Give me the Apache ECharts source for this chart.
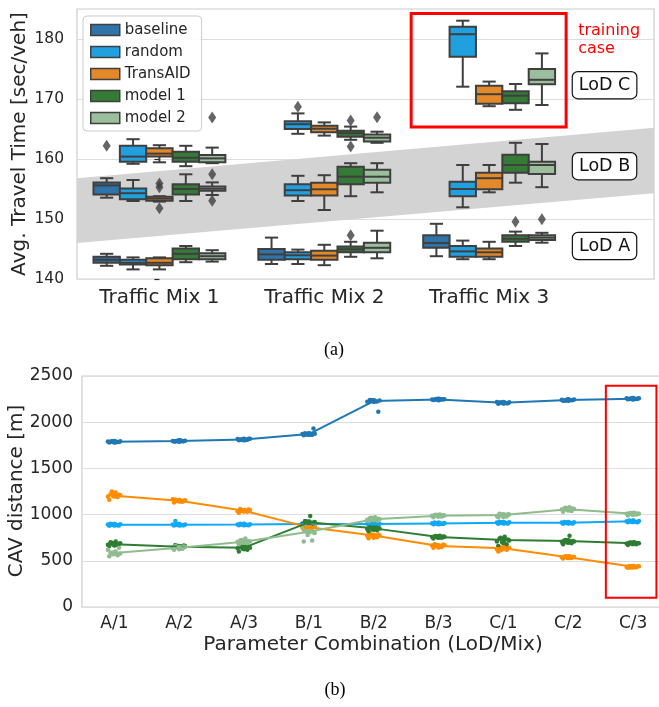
<!DOCTYPE html>
<html>
<head>
<meta charset="utf-8">
<script src="https://cdn.jsdelivr.net/npm/echarts@6.0.0/dist/echarts.min.js"></script>
<style>html,body{margin:0;padding:0;background:#fff;}#c{width:659px;height:707px;}</style>
</head>
<body>
<div id="c"></div>
<script>
// ---------- DATA: top chart (box plots) ----------
const mixCats = ['Traffic Mix 1', 'Traffic Mix 2', 'Traffic Mix 3'];
const hues = ['baseline', 'random', 'TransAID', 'model 1', 'model 2'];
const yTicksTop = [140, 150, 160, 170, 180];
// [mixIndex, min, q1, median, q3, max]
const baselineBoxes = [
  [0, 142.2, 142.7, 143.2, 143.7, 144.2],
  [0, 153.55, 154.1, 155.6, 156.1, 156.8],
  [1, 142.5, 143.2, 144.1, 145.0, 146.9],
  [2, 143.8, 145.2, 146.0, 147.3, 149.2]
];
const randomBoxes = [
  [0, 141.6, 142.4, 142.7, 143.2, 143.6],
  [0, 153.0, 153.3, 154.3, 155.1, 156.5],
  [0, 159.2, 159.55, 160.4, 162.2, 163.3],
  [1, 142.5, 143.3, 143.95, 144.45, 144.9],
  [1, 153.0, 153.9, 154.8, 155.8, 157.2],
  [1, 164.2, 165.0, 165.8, 166.3, 167.6],
  [2, 143.3, 143.7, 144.6, 145.5, 146.4],
  [2, 151.95, 153.8, 155.0, 156.2, 159.0],
  [2, 172.05, 177.05, 180.8, 182.05, 183.05]
];
const transaidBoxes = [
  [0, 141.6, 142.3, 142.7, 143.45, 143.6],
  [0, 152.9, 153.05, 153.4, 153.7, 153.8],
  [0, 159.45, 160.4, 160.9, 161.8, 162.3],
  [1, 142.3, 143.2, 143.9, 144.7, 145.7],
  [1, 151.5, 153.9, 154.95, 156.05, 157.3],
  [1, 163.9, 164.45, 165.05, 165.55, 166.1],
  [2, 143.3, 143.7, 144.45, 145.1, 146.2],
  [2, 154.45, 154.95, 156.8, 157.7, 159.0],
  [2, 168.8, 169.2, 170.8, 172.2, 172.9]
];
const model1Boxes = [
  [0, 142.8, 143.3, 144.2, 145.1, 145.5],
  [0, 153.0, 154.1, 155.0, 155.8, 157.45],
  [0, 158.8, 159.55, 160.2, 161.2, 162.2],
  [1, 143.7, 144.45, 144.95, 145.4, 146.2],
  [1, 153.8, 155.8, 157.05, 158.7, 159.3],
  [1, 163.2, 163.7, 164.3, 164.7, 165.4],
  [2, 145.5, 146.2, 146.7, 147.3, 147.9],
  [2, 156.05, 157.7, 159.0, 160.7, 162.7],
  [2, 168.2, 169.3, 170.55, 171.3, 172.5]
];
const model2Boxes = [
  [0, 142.9, 143.3, 143.8, 144.3, 144.8],
  [0, 154.0, 154.7, 155.05, 155.4, 156.1],
  [0, 159.3, 159.45, 160.1, 160.65, 161.9],
  [1, 143.45, 144.45, 145.2, 146.05, 148.05],
  [1, 154.45, 156.05, 157.05, 158.2, 159.3],
  [1, 162.7, 162.9, 163.55, 164.1, 164.55],
  [2, 146.05, 146.5, 146.9, 147.3, 147.7],
  [2, 155.3, 157.5, 159.0, 159.55, 162.5],
  [2, 169.0, 172.45, 173.2, 175.0, 177.6]
];
// [mixIndex, value]
const baselineOutliers = [[0, 162.2]];
const randomOutliers = [[1, 168.7]];
const transaidOutliers = [[0, 155.9], [0, 155.3], [0, 151.8]];
const model1Outliers = [[1, 147.3], [1, 166.4], [1, 162.1], [2, 149.55]];
const model2Outliers = [[0, 166.9], [0, 157.45], [0, 153.05], [1, 166.95], [2, 149.95]];
// gray band (LoD B region)
const bandX = [-0.5, 3.0];
const bandLow = [146.0, 154.3];
const bandHigh = [156.8, 165.2];
const lodLabels = ['LoD A', 'LoD B', 'LoD C'];
const lodValues = [145.5, 158.8, 172.3];

// ---------- DATA: bottom chart (CAV distance) ----------
const comboCats = ['A/1', 'A/2', 'A/3', 'B/1', 'B/2', 'B/3', 'C/1', 'C/2', 'C/3'];
const yTicksBottom = [0, 500, 1000, 1500, 2000, 2500];
const distBaselineMean = [1789, 1796, 1814, 1872, 2229, 2247, 2211, 2240, 2254];
const distRandomMean = [890, 890, 893, 897, 898, 905, 912, 912, 927];
const distTransaidMean = [1205, 1150, 1042, 862, 775, 661, 635, 538, 436];
const distModel1Mean = [678, 652, 642, 916, 851, 757, 725, 714, 689];
const distModel2Mean = [584, 642, 707, 815, 949, 988, 995, 1057, 1010];
const distBaselinePts = [
  [1780, 1785, 1790, 1795, 1788, 1783, 1792, 1786, 1790, 1794],
  [1790, 1795, 1800, 1798, 1792, 1802, 1796, 1794, 1799, 1797],
  [1805, 1810, 1815, 1820, 1812, 1808, 1818, 1822, 1814, 1811],
  [1860, 1865, 1870, 1875, 1880, 1868, 1872, 1933, 1878, 1866],
  [2215, 2225, 2230, 2235, 2240, 2228, 2220, 2113, 2232, 2238],
  [2240, 2245, 2250, 2248, 2243, 2252, 2246, 2249, 2244, 2251],
  [2200, 2205, 2210, 2215, 2212, 2208, 2218, 2204, 2211, 2214],
  [2232, 2238, 2242, 2245, 2236, 2240, 2244, 2239, 2241, 2235],
  [2248, 2252, 2256, 2260, 2250, 2254, 2258, 2255, 2251, 2257]
];
const distRandomPts = [
  [880, 885, 890, 895, 900, 887, 893, 882, 898, 891],
  [882, 886, 890, 894, 930, 888, 892, 884, 896, 889],
  [884, 888, 892, 896, 902, 890, 894, 886, 899, 893],
  [888, 892, 896, 900, 906, 894, 898, 890, 903, 897],
  [888, 893, 898, 902, 908, 895, 900, 891, 905, 899],
  [895, 900, 905, 909, 914, 902, 907, 898, 911, 904],
  [900, 906, 912, 916, 922, 908, 914, 903, 918, 911],
  [902, 907, 912, 916, 921, 909, 914, 904, 918, 911],
  [916, 921, 926, 931, 936, 923, 928, 918, 933, 925]
];
const distTransaidPts = [
  [1160, 1190, 1200, 1210, 1220, 1240, 1195, 1215, 1205, 1250],
  [1130, 1140, 1150, 1155, 1160, 1145, 1165, 1150, 1158, 1148],
  [1020, 1030, 1040, 1050, 1060, 1045, 1035, 1055, 1042, 1048],
  [840, 850, 860, 870, 880, 855, 865, 875, 848, 862],
  [745, 755, 765, 775, 795, 760, 770, 785, 750, 780],
  [640, 650, 660, 670, 680, 655, 665, 675, 645, 668],
  [600, 620, 630, 640, 650, 660, 625, 635, 645, 615],
  [525, 530, 535, 540, 545, 550, 538, 542, 532, 548],
  [425, 430, 435, 440, 445, 438, 432, 442, 436, 428]
];
const distModel1Pts = [
  [660, 670, 680, 690, 700, 710, 675, 685, 665, 695],
  [630, 640, 650, 660, 670, 655, 645, 665, 648, 652],
  [600, 620, 630, 640, 650, 660, 635, 645, 625, 655],
  [880, 900, 910, 920, 930, 985, 905, 915, 895, 925],
  [820, 830, 840, 850, 860, 870, 845, 855, 835, 865],
  [740, 750, 755, 760, 765, 770, 758, 762, 752, 768],
  [660, 680, 700, 720, 740, 760, 710, 730, 690, 750],
  [680, 690, 700, 710, 720, 770, 705, 715, 695, 725],
  [670, 680, 685, 690, 695, 700, 688, 692, 682, 698]
];
const distModel2Pts = [
  [550, 560, 570, 580, 590, 600, 620, 640, 575, 585],
  [620, 630, 640, 650, 660, 635, 645, 655, 625, 665],
  [680, 690, 700, 710, 720, 740, 705, 715, 695, 725],
  [710, 720, 780, 800, 820, 840, 860, 810, 830, 880],
  [920, 930, 940, 950, 960, 970, 945, 955, 935, 965],
  [970, 980, 985, 990, 995, 1000, 988, 992, 982, 998],
  [970, 980, 990, 1000, 1010, 995, 985, 1005, 975, 1002],
  [1030, 1040, 1050, 1060, 1070, 1080, 1055, 1065, 1045, 1075],
  [990, 1000, 1005, 1010, 1015, 1020, 1008, 1012, 1002, 1018]
];

// ---------- STYLE ----------
const boxColors = ['#2f73a8', '#21a0e0', '#e3892a', '#367a38', '#9bbf9d'];
const lineColors = ['#1f77b4', '#0ea8f8', '#ff8c00', '#2e7d32', '#8fbc8f'];
const EDGE = '#3f3f3f';
const TXT = '#262626';
const FONT = '"DejaVu Sans", sans-serif';
const BOXW = 0.16;
const hueOffset = h => (h - 2) * BOXW;
const JITTER = [-0.08, 0.05, -0.02, 0.09, -0.06, 0.02, -0.1, 0.07, 0.0, -0.04];

const boxSets = [baselineBoxes, randomBoxes, transaidBoxes, model1Boxes, model2Boxes];
const outSets = [baselineOutliers, randomOutliers, transaidOutliers, model1Outliers, model2Outliers];
const meanSets = [distBaselineMean, distRandomMean, distTransaidMean, distModel1Mean, distModel2Mean];
const ptSets = [distBaselinePts, distRandomPts, distTransaidPts, distModel1Pts, distModel2Pts];

function boxRender(h) {
  return function (params, api) {
    const x = api.value(0) + hueOffset(h);
    const w = api.size([BOXW, 0])[0];
    const cw = w / 2;
    const pMin = api.coord([x, api.value(1)]);
    const pQ1 = api.coord([x, api.value(2)]);
    const pMed = api.coord([x, api.value(3)]);
    const pQ3 = api.coord([x, api.value(4)]);
    const pMax = api.coord([x, api.value(5)]);
    const ls = { stroke: EDGE, lineWidth: 2 };
    const cx = pMed[0];
    return {
      type: 'group',
      children: [
        { type: 'line', shape: { x1: cx, y1: pQ1[1], x2: cx, y2: pMin[1] }, style: ls },
        { type: 'line', shape: { x1: cx, y1: pQ3[1], x2: cx, y2: pMax[1] }, style: ls },
        { type: 'line', shape: { x1: cx - cw / 2, y1: pMin[1], x2: cx + cw / 2, y2: pMin[1] }, style: ls },
        { type: 'line', shape: { x1: cx - cw / 2, y1: pMax[1], x2: cx + cw / 2, y2: pMax[1] }, style: ls },
        { type: 'rect', shape: { x: cx - w / 2, y: pQ3[1], width: w, height: pQ1[1] - pQ3[1] },
          style: { fill: boxColors[h], stroke: EDGE, lineWidth: 2 } },
        { type: 'line', shape: { x1: cx - w / 2, y1: pMed[1], x2: cx + w / 2, y2: pMed[1] }, style: ls }
      ]
    };
  };
}

const series = [];
// gray band
series.push({
  type: 'custom', xAxisIndex: 0, yAxisIndex: 0, z: 1, silent: true,
  data: [[bandX[0], bandLow[0], bandHigh[0], bandX[1], bandLow[1], bandHigh[1]]],
  renderItem: function (params, api) {
    const a = api.coord([api.value(0), api.value(1)]);
    const b = api.coord([api.value(0), api.value(2)]);
    const c = api.coord([api.value(3), api.value(5)]);
    const d = api.coord([api.value(3), api.value(4)]);
    return { type: 'polygon', shape: { points: [a, b, c, d] }, style: { fill: '#d3d3d3' } };
  }
});
// boxes & outliers
boxSets.forEach((set, h) => {
  series.push({
    name: hues[h], type: 'custom', xAxisIndex: 0, yAxisIndex: 0, z: 3,
    itemStyle: { color: boxColors[h] },
    encode: { x: 0, y: [1, 2, 3, 4, 5] },
    data: set, renderItem: boxRender(h)
  });
  series.push({
    name: hues[h] + ' outliers', type: 'scatter', xAxisIndex: 0, yAxisIndex: 0, z: 4,
    symbol: 'diamond', symbolSize: [8, 12],
    itemStyle: { color: EDGE },
    data: outSets[h].map(o => [o[0] + hueOffset(h), o[1]])
  });
});
// LoD labels & training case text
series.push({
  type: 'custom', xAxisIndex: 0, yAxisIndex: 0, z: 6, silent: true,
  data: lodValues.map((v, i) => [2.70, v, i]),
  renderItem: function (params, api) {
    const p = api.coord([api.value(0), api.value(1)]);
    return {
      type: 'text',
      style: {
        text: lodLabels[api.value(2)], x: p[0], y: p[1], fill: '#111', font: '17.5px ' + FONT,
        align: 'center', verticalAlign: 'middle', backgroundColor: '#fff', borderColor: '#111',
        borderWidth: 1.2, borderRadius: 5, padding: [4, 6]
      }
    };
  }
});
series.push({
  type: 'custom', xAxisIndex: 0, yAxisIndex: 0, z: 6, silent: true,
  data: [[2.54, 179.8]],
  renderItem: function (params, api) {
    const p = api.coord([api.value(0), api.value(1)]);
    return { type: 'text', style: { text: 'training\ncase', x: p[0], y: p[1], fill: '#ff0000',
      font: '16px ' + FONT, lineHeight: 18, align: 'left', verticalAlign: 'middle' } };
  }
});
// red rectangle top
series.push({
  type: 'custom', xAxisIndex: 0, yAxisIndex: 0, z: 5, silent: true,
  data: [[1.527, 165.33, 2.467, 184.25]],
  renderItem: function (params, api) {
    const a = api.coord([api.value(0), api.value(3)]);
    const b = api.coord([api.value(2), api.value(1)]);
    return { type: 'rect', shape: { x: a[0], y: a[1], width: b[0] - a[0], height: b[1] - a[1] },
      style: { fill: 'none', stroke: '#ff0000', lineWidth: 3 } };
  }
});
// bottom: points & lines
ptSets.forEach((set, h) => {
  const pts = [];
  set.forEach((vals, ci) => vals.forEach((v, j) => pts.push([ci + JITTER[j % JITTER.length], v])));
  series.push({
    name: hues[h] + ' pts', type: 'scatter', xAxisIndex: 1, yAxisIndex: 1, z: 3,
    symbolSize: 4.5, itemStyle: { color: lineColors[h], opacity: 1 }, data: pts
  });
});
meanSets.forEach((set, h) => {
  series.push({
    name: hues[h] + ' mean', type: 'line', xAxisIndex: 1, yAxisIndex: 1, z: 4,
    symbol: 'circle', symbolSize: 6, showSymbol: true,
    itemStyle: { color: lineColors[h] }, lineStyle: { color: lineColors[h], width: 2 },
    data: set.map((v, i) => [i, v])
  });
});
// red rectangle bottom
series.push({
  type: 'custom', xAxisIndex: 1, yAxisIndex: 1, z: 5, silent: true,
  data: [[7.58, 100, 8.36, 2395]],
  renderItem: function (params, api) {
    const a = api.coord([api.value(0), api.value(3)]);
    const b = api.coord([api.value(2), api.value(1)]);
    return { type: 'rect', shape: { x: a[0], y: a[1], width: b[0] - a[0], height: b[1] - a[1] },
      style: { fill: 'none', stroke: '#ff0000', lineWidth: 2 } };
  }
});

const option = {
  animation: false,
  backgroundColor: '#fff',
  grid: [
    { left: 77, top: 9, width: 577, height: 270, show: true, borderColor: '#cccccc', borderWidth: 1.2, backgroundColor: '#fff', outerBoundsMode: 'none' },
    { left: 82, top: 376, width: 583.5, height: 231, show: true, borderColor: '#cccccc', borderWidth: 1.2, backgroundColor: '#fff', outerBoundsMode: 'none' }
  ],
  xAxis: [
    { type: 'value', gridIndex: 0, min: -0.5, max: 3.0,
      axisLine: { show: false }, axisTick: { show: false }, splitLine: { show: false },
      axisLabel: { customValues: [0, 1, 2], formatter: v => mixCats[Math.round(v)], color: TXT,
        fontSize: 20, fontFamily: FONT, margin: 9 } },
    { type: 'value', gridIndex: 1, min: -0.5, max: 8.5,
      axisLine: { show: false }, axisTick: { show: false }, splitLine: { show: false },
      axisLabel: { customValues: [0, 1, 2, 3, 4, 5, 6, 7, 8], formatter: v => comboCats[Math.round(v)], color: TXT,
        fontSize: 17, fontFamily: FONT, margin: 8 } }
  ],
  yAxis: [
    { type: 'value', gridIndex: 0, min: 140, max: 185, interval: 10,
      axisLine: { show: false },
      axisTick: { show: true, length: 5, customValues: yTicksTop, lineStyle: { color: TXT, width: 1.2 } },
      splitLine: { show: true, lineStyle: { color: '#dddddd', width: 1.2 } },
      axisLabel: { customValues: yTicksTop, formatter: v => String(v), color: TXT, fontSize: 15.5, fontFamily: FONT, margin: 13 } },
    { type: 'value', gridIndex: 1, min: 0, max: 2500, interval: 500,
      axisLine: { show: false }, axisTick: { show: false },
      splitLine: { show: true, lineStyle: { color: '#dddddd', width: 1.2 } },
      axisLabel: { customValues: yTicksBottom, formatter: v => String(v), color: TXT, fontSize: 17, fontFamily: FONT, margin: 9 } }
  ],
  legend: {
    orient: 'vertical', left: 83, top: 16, z: 10,
    backgroundColor: 'rgba(255,255,255,0.9)', borderColor: '#cccccc', borderWidth: 1, borderRadius: 4,
    padding: [6, 11, 5, 7], itemWidth: 29, itemHeight: 11, itemGap: 6,
    textStyle: { color: TXT, fontSize: 15, fontFamily: FONT, lineHeight: 16 },
    data: hues.map((n, h) => ({ name: n, icon: 'rect',
      itemStyle: { color: boxColors[h], borderColor: EDGE, borderWidth: 1.5 } }))
  },
  graphic: [
    { type: 'text', x: 20, y: 144, rotation: Math.PI / 2,
      style: { text: 'Avg. Travel Time [sec/veh]', fill: TXT, font: '20px ' + FONT, align: 'center', verticalAlign: 'middle' } },
    { type: 'text', x: 17, y: 491, rotation: Math.PI / 2,
      style: { text: 'CAV distance [m]', fill: TXT, font: '20px ' + FONT, align: 'center', verticalAlign: 'middle' } },
    { type: 'text', x: 373, y: 645,
      style: { text: 'Parameter Combination (LoD/Mix)', fill: TXT, font: '20px ' + FONT, align: 'center', verticalAlign: 'middle' } },
    { type: 'text', x: 334, y: 350,
      style: { text: '(a)', fill: '#000', font: '18px "Liberation Serif", serif', align: 'center', verticalAlign: 'middle' } },
    { type: 'text', x: 335, y: 690,
      style: { text: '(b)', fill: '#000', font: '18px "Liberation Serif", serif', align: 'center', verticalAlign: 'middle' } }
  ],
  series: series
};
const chart = echarts.init(document.getElementById('c'), null, { renderer: 'canvas' });
chart.setOption(option);
</script>
</body>
</html>
